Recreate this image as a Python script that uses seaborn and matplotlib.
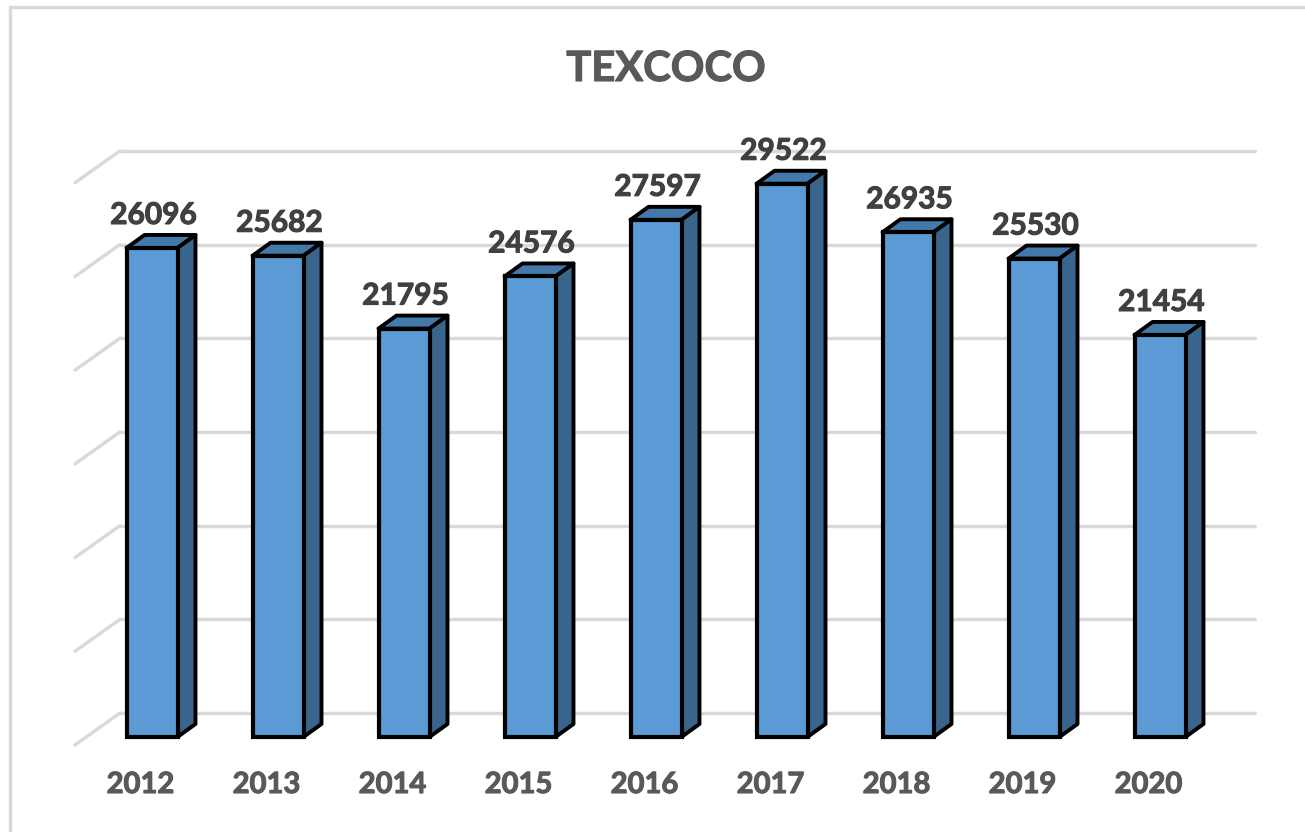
import matplotlib
matplotlib.use("Agg")
import matplotlib.pyplot as plt
import matplotlib.patheffects as pe
import seaborn as sns
import pandas as pd
from matplotlib.patches import Polygon, Rectangle

years = ['2012', '2013', '2014', '2015', '2016', '2017', '2018', '2019', '2020']
values = [26096, 25682, 21795, 24576, 27597, 29522, 26935, 25530, 21454]
grid_values = [0, 5000, 10000, 15000, 20000, 25000, 30000]

df = pd.DataFrame({'year': years, 'value': values})

sns.set_theme(style="white")
plt.rcParams['font.family'] = ['Lato', 'DejaVu Sans']

W, H = 1305, 832
fig = plt.figure(figsize=(W / 100, H / 100), dpi=100)
ax = fig.add_axes([0, 0, 1, 1])

# one category = 126 px, 5000 units = 93.7 px, first bar centred at x=152, floor at y=737
px_x = 1 / 126
px_y = 5000 / 93.7

sns.barplot(data=df, x='year', y='value', color='#5b9bd5', saturation=1, width=51 * px_x,
            edgecolor='black', linewidth=3, zorder=3, ax=ax)
ax.set_xlim(-152 * px_x, (W - 152) * px_x)
ax.set_ylim(-(H - 737) * px_y, 737 * px_y)
ax.axis('off')

# depth of the fake 3d
dx = 18 * px_x
dy = 13 * px_y

# back wall lines and the diagonal on the left
for g in grid_values:
    y_back = g + 24 * px_y
    ax.plot([-32 * px_x, 1103 * px_x], [y_back, y_back], color='#d9d9d9', lw=2.4, zorder=1)
    ax.plot([-77 * px_x, -32 * px_x], [y_back - 32 * px_y, y_back], color='#d9d9d9', lw=2.4, zorder=1)


def heavy(color):
    # the original text is a bit fatter than Lato bold
    return [pe.withStroke(linewidth=0.8, foreground=color)]


# top and side faces from the bars
for bar in ax.patches[:len(values)]:
    x0 = bar.get_x()
    x1 = x0 + bar.get_width()
    top = bar.get_height()
    ax.add_patch(Polygon([(x0, top), (x1, top), (x1 + dx, top + dy), (x0 + dx, top + dy)], closed=True,
                         facecolor='#4479aa', edgecolor='black', lw=2.8, joinstyle='round', zorder=2.8))
    ax.add_patch(Polygon([(x1, 0), (x1 + dx, dy), (x1 + dx, top + dy), (x1, top)], closed=True,
                         facecolor='#39648c', edgecolor='black', lw=2.8, joinstyle='round', zorder=2.8))
    ax.text(x0 + bar.get_width() / 2 + 1.5 * px_x, top + 33 * px_y, f'{int(top)}', ha='center', va='center',
            fontsize=21.5, fontweight='bold', color='#404040', zorder=5, path_effects=heavy('#404040'))

# year labels under the bars
for i, year in enumerate(years):
    ax.text(i - 11.5 * px_x, -48 * px_y, year, ha='center', va='center',
            fontsize=21, fontweight='bold', color='#595959', path_effects=heavy('#595959'))

fig.text(666 / W, 1 - 69 / H, 'TEXCOCO', ha='center', va='center', fontsize=30,
         fontweight='bold', color='#595959', path_effects=heavy('#595959'))

# chart frame, runs off the right side of the screenshot
fig.add_artist(Rectangle((10 / W, -0.05), 1.1, 1 - 7 / H + 0.05, transform=fig.transFigure,
                         fill=False, edgecolor='#d9d9d9', lw=2.4))

fig.savefig('out.png', dpi=100, facecolor='white')
